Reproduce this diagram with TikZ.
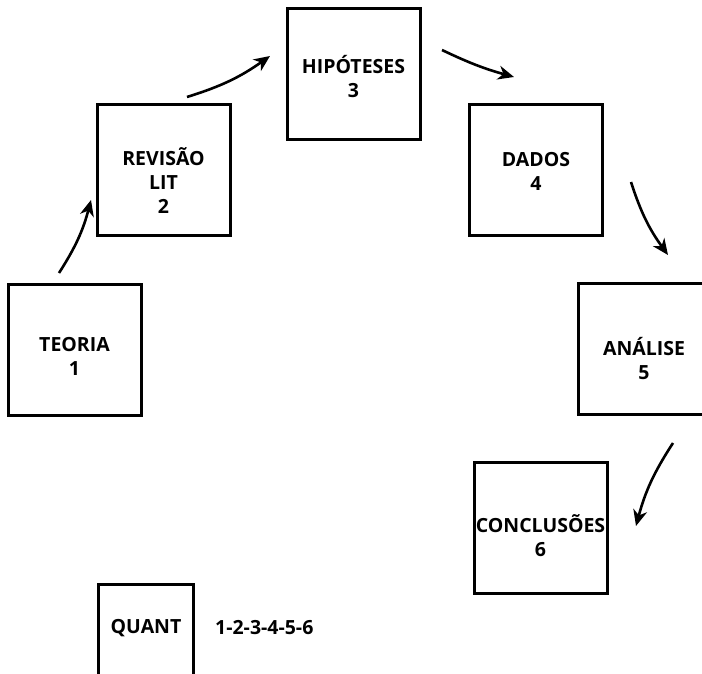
\documentclass[tikz,border=0pt]{standalone}
\usepackage{fontspec}
\setmainfont{Open Sans}
\usepackage{tikz}
\usetikzlibrary{arrows.meta}

\tikzset{
  caixa/.style={draw, line width=3pt, minimum width=133pt, minimum height=131pt, inner sep=0pt},
  rotulo/.style={inner sep=0pt, align=center, font=\bfseries\fontsize{19.5}{24}\selectfont},
  seta/.style={-{Stealth[length=16pt,width=14pt,inset=5pt]}, line width=2.6pt, bend left=9},
}

\begin{document}
\begin{tikzpicture}[x=1pt,y=1pt,yscale=-1,xscale=1]
      \useasboundingbox (0,0) rectangle (702,674);
      \clip (0,0) rectangle (702,674);
      % caixas do ciclo
      \node [caixa] (teoria) at (74.5,349.5) {};
      \node [caixa] (revisao) at (163.5,170) {};
      \node [caixa] (hipoteses) at (353.5,74) {};
      \node [caixa] (dados) at (535.5,170) {};
      \node [caixa] (analise) at (644.5,349) {};
      \node [caixa] (conclusoes) at (540.5,528) {};
      \node [caixa, minimum width=95pt, anchor=north] (quant) at (145.5,583) {};
      % textos
      \node [rotulo] (teoria-t) at (74.5,356.5) {TEORIA\\1};
      \node [rotulo] (revisao-t) at (163.5,181) {REVISÃO\\LIT\\2};
      \node [rotulo] (hipoteses-t) at (353.5,76.5) {HIPÓTESES\\3};
      \node [rotulo] (dados-t) at (536,171.5) {DADOS\\4};
      \node [rotulo] (analise-t) at (644,358.5) {ANÁLISE\\5};
      \node [rotulo] (conclusoes-t) at (540.5,535.5) {CONCLUSÕES\\6};
      \node [rotulo] (quant-t) at (146,628) {QUANT};
      \node [rotulo, anchor=west] (sequencia) at (215,628) {1-2-3-4-5-6};
      % pontas das setas
      \coordinate (s1) at (59,273);  \coordinate (e1) at (91,200);
      \coordinate (s2) at (187,97);  \coordinate (e2) at (270,56);
      \coordinate (s3) at (442,50);  \coordinate (e3) at (514,77);
      \coordinate (s4) at (631,182); \coordinate (e4) at (668,255);
      \coordinate (s5) at (673,443); \coordinate (e5) at (636,526);
      \draw [seta] (s1) to (e1);
      \draw [seta] (s2) to (e2);
      \draw [seta, bend left=5] (s3) to (e3);
      \draw [seta] (s4) to (e4);
      \draw [seta] (s5) to (e5);
\end{tikzpicture}
\end{document}
